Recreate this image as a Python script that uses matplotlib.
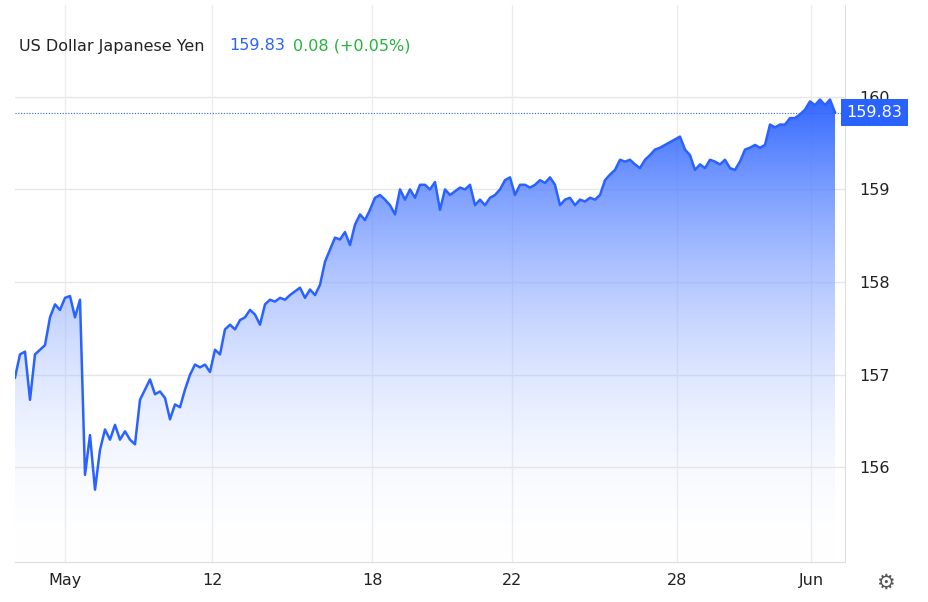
import numpy as np
import matplotlib
matplotlib.use("Agg")
import matplotlib.pyplot as plt
from matplotlib.patches import PathPatch
from matplotlib.path import Path

# USD/JPY, sampled roughly evenly across the visible range
values = [
    156.97, 157.22, 157.25, 156.73, 157.22, 157.27, 157.32, 157.62, 157.76, 157.70,
    157.83, 157.85, 157.62, 157.81, 155.92, 156.35, 155.76, 156.19, 156.41, 156.30,
    156.46, 156.30, 156.39, 156.30, 156.25, 156.73, 156.84, 156.95, 156.79, 156.82,
    156.75, 156.52, 156.68, 156.65, 156.84, 157.00, 157.11, 157.08, 157.11, 157.03,
    157.27, 157.22, 157.49, 157.54, 157.49, 157.59, 157.62, 157.70, 157.65, 157.54,
    157.76, 157.81, 157.79, 157.83, 157.81, 157.86, 157.90, 157.94, 157.83, 157.92,
    157.86, 157.97, 158.22, 158.35, 158.48, 158.46, 158.54, 158.40, 158.62, 158.73,
    158.67, 158.78, 158.91, 158.94, 158.89, 158.83, 158.73, 159.00, 158.89, 159.00,
    158.91, 159.05, 159.05, 159.00, 159.08, 158.78, 159.00, 158.94, 158.98, 159.02,
    159.00, 159.05, 158.83, 158.89, 158.83, 158.91, 158.94, 159.00, 159.10, 159.13,
    158.94, 159.05, 159.05, 159.02, 159.05, 159.10, 159.07, 159.13, 159.05, 158.83,
    158.89, 158.91, 158.83, 158.89, 158.87, 158.91, 158.89, 158.94, 159.10, 159.16,
    159.21, 159.32, 159.30, 159.32, 159.27, 159.23, 159.32, 159.37, 159.43, 159.45,
    159.48, 159.51, 159.54, 159.57, 159.43, 159.37, 159.21, 159.27, 159.23, 159.32,
    159.30, 159.27, 159.32, 159.23, 159.21, 159.30, 159.43, 159.45, 159.48, 159.45,
    159.48, 159.70, 159.67, 159.70, 159.70, 159.77, 159.77, 159.81, 159.86, 159.95,
    159.91, 159.97, 159.91, 159.97, 159.83,
]
tick_pos = [10, 39.4, 71.4, 99.4, 132.4, 159.2]
tick_labels = ["May", "12", "18", "22", "28", "Jun"]
y_ticks = [156, 157, 158, 159, 160]
last = 159.83
change = "0.08 (+0.05%)"

blue = "#2962ff"
x = np.arange(len(values))
y = np.array(values)

fig = plt.figure(figsize=(9.29, 6.02), dpi=100)
ax = fig.add_axes([15 / 929, 40 / 602, 830 / 929, 557 / 602])
ymin, ymax = 154.98, 160.99
ax.set_xlim(0, 166)
ax.set_ylim(ymin, ymax)

# gradient fill under the line
grad = np.linspace(1, 0, 256).reshape(-1, 1)
cmap = matplotlib.colors.LinearSegmentedColormap.from_list(
    "g", [(1, 1, 1, 0.0), (0.16, 0.38, 1.0, 0.95)])
im = ax.imshow(grad, aspect="auto", cmap=cmap, extent=[0, 166, ymin, y.max()],
               origin="upper", zorder=1, vmin=0, vmax=1)
verts = [(x[0], ymin)] + list(zip(x, y)) + [(x[-1], ymin)]
clip = PathPatch(Path(verts), transform=ax.transData, facecolor="none", edgecolor="none")
ax.add_patch(clip)
im.set_clip_path(clip)
ax.plot(x, y, color=blue, lw=1.8, zorder=3)

ax.axhline(last, color=blue, lw=0.8, ls=(0, (1, 1.5)), zorder=2)

for t in y_ticks:
    ax.axhline(t, color="#e6e6e6", lw=1, zorder=0)
for t in tick_pos:
    ax.axvline(t, color="#ececec", lw=1, zorder=0)

ax.set_xticks(tick_pos)
ax.set_xticklabels(tick_labels, fontsize=11.5, color="#222222")
ax.tick_params(axis="x", length=0, pad=8)
ax.yaxis.tick_right()
ax.set_yticks(y_ticks)
ax.set_yticklabels([str(t) for t in y_ticks], fontsize=11.5, color="#222222")
ax.tick_params(axis="y", length=0, pad=10)
for s in ["top", "left"]:
    ax.spines[s].set_visible(False)
ax.spines["right"].set_color("#dddddd")
ax.spines["bottom"].set_color("#dddddd")

ax.text(1.0 + 0.002, last, f"{last:.2f}", transform=ax.get_yaxis_transform(),
        fontsize=11.5, color="white", va="center", ha="left",
        bbox=dict(boxstyle="square,pad=0.35", fc=blue, ec="none"))

fig.text(19 / 929, 1 - 46 / 602, "US Dollar Japanese Yen", fontsize=11.5, color="#222222", va="center")
fig.text(229 / 929, 1 - 46 / 602, f"{last:.2f}", fontsize=11.5, color=blue, va="center")
fig.text(293 / 929, 1 - 46 / 602, change, fontsize=11.5, color="#22b53a", va="center")
fig.text(885 / 929, 1 - 583 / 602, "\u2699", fontsize=15, color="#555555", ha="center", va="center")

fig.savefig("out.png", dpi=100)
